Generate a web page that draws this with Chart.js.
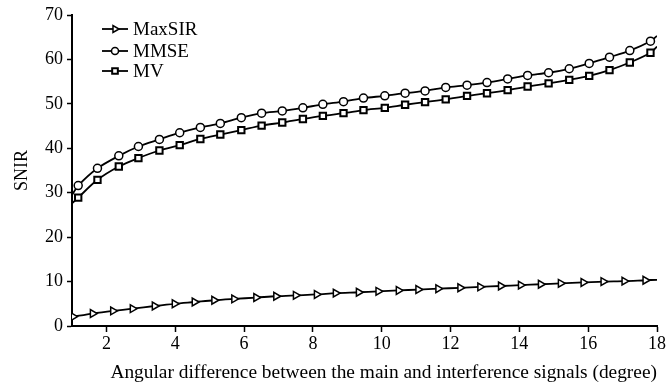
<!DOCTYPE html>
<html>
<head>
<meta charset="utf-8">
<script src="https://cdn.jsdelivr.net/npm/chart.js@4"></script>
<style>
  html, body { margin: 0; padding: 0; background: #fff; }
  canvas { display: block; }
</style>
</head>
<body>
<canvas id="snirChart" width="667" height="390"></canvas>
<script>
// angles (degree) where markers are drawn
const maxsirX = [1.03, 1.6, 2.19, 2.76, 3.4, 3.98, 4.56, 5.13, 5.71, 6.35, 6.93, 7.5, 8.11, 8.66, 9.33,
                 9.9, 10.49, 11.06, 11.64, 12.28, 12.86, 13.46, 14.04, 14.62, 15.2, 15.86, 16.44, 17.05, 17.66];
const beamX = [1.18, 1.74, 2.36, 2.93, 3.54, 4.13, 4.73, 5.31, 5.92, 6.51, 7.11, 7.71, 8.29, 8.89, 9.47,
               10.09, 10.68, 11.26, 11.86, 12.48, 13.06, 13.66, 14.24, 14.85, 15.45, 16.03, 16.62, 17.21, 17.81];

// SNIR values
const maxsirY = [2.1, 2.8, 3.4, 3.9, 4.5, 5.0, 5.4, 5.8, 6.1, 6.4, 6.7, 6.9, 7.1, 7.4, 7.6,
                 7.8, 8.0, 8.2, 8.4, 8.6, 8.8, 9.0, 9.2, 9.4, 9.6, 9.8, 10.0, 10.1, 10.3];
const mmseY = [31.6, 35.5, 38.3, 40.4, 42.0, 43.5, 44.7, 45.6, 46.9, 47.9, 48.4, 49.1, 49.9, 50.5, 51.3,
               51.8, 52.4, 52.9, 53.7, 54.2, 54.8, 55.6, 56.4, 57.0, 57.9, 59.1, 60.5, 62.0, 64.1];
const mvY = [28.9, 32.9, 35.9, 37.8, 39.5, 40.7, 42.1, 43.1, 44.1, 45.1, 45.8, 46.6, 47.3, 47.9, 48.6,
             49.1, 49.8, 50.4, 51.0, 51.8, 52.4, 53.1, 53.9, 54.6, 55.4, 56.3, 57.6, 59.3, 61.5];

// curve values at the axis ends (no marker there)
const axisEnds = [1, 18];
const maxsirEnds = [null, 10.4];
const mmseEnds = [29.5, 65.3];
const mvEnds = [27.6, 62.9];

const xTicks = [2, 4, 6, 8, 10, 12, 14, 16, 18];
const yTicks = [0, 10, 20, 30, 40, 50, 60, 70];
const seriesNames = ['MaxSIR', 'MMSE', 'MV'];

function buildPoints(xs, ys, ends) {
    const pts = xs.map((x, i) => ({ x: x, y: ys[i] }));
    if (ends[0] !== null) pts.unshift({ x: axisEnds[0], y: ends[0], edge: true });
    if (ends[1] !== null) pts.push({ x: axisEnds[1], y: ends[1], edge: true });
    return pts;
}

const serif = '"Liberation Serif", "Times New Roman", serif';

const markerStyles = [
    { pointStyle: 'triangle', radius: 4.5, rotation: 90 },
    { pointStyle: 'circle', radius: 4, rotation: 0 },
    { pointStyle: 'rect', radius: 4.5, rotation: 0 }
];

function makeDataset(i, points) {
    const m = markerStyles[i];
    return {
        label: seriesNames[i],
        data: points,
        borderColor: '#000',
        borderWidth: 1.8,
        backgroundColor: '#fff',
        pointBackgroundColor: '#fff',
        pointBorderColor: '#000',
        pointBorderWidth: i === 2 ? 2 : 1.5,
        pointStyle: m.pointStyle,
        pointRotation: m.rotation,
        pointRadius: ctx => (ctx.raw && ctx.raw.edge) ? 0 : m.radius,
        tension: 0.3,
        fill: false
    };
}

// legend inside the plot, line sample with marker in the middle
const innerLegend = {
    id: 'innerLegend',
    afterDraw(chart) {
        const c = chart.ctx;
        const x0 = 102, x1 = 128, tx = 133;
        const ys = [29, 51, 71];
        c.save();
        seriesNames.forEach((name, i) => {
            const y = ys[i];
            c.strokeStyle = '#000';
            c.lineWidth = 1.8;
            c.beginPath();
            c.moveTo(x0, y);
            c.lineTo(x1, y);
            c.stroke();
            c.fillStyle = '#fff';
            c.lineWidth = i === 2 ? 2 : 1.5;
            const m = markerStyles[i];
            Chart.helpers.drawPoint(c, { pointStyle: m.pointStyle, radius: m.radius - 0.5, rotation: m.rotation, borderWidth: c.lineWidth }, (x0 + x1) / 2, y);
            c.fillStyle = '#000';
            c.font = '19px ' + serif;
            c.textAlign = 'left';
            c.textBaseline = 'middle';
            c.fillText(name, tx, y + 1);
        });
        c.restore();
    }
};

const ctx = document.getElementById('snirChart');
new Chart(ctx, {
    type: 'line',
    data: {
        datasets: [
            makeDataset(0, buildPoints(maxsirX, maxsirY, maxsirEnds)),
            makeDataset(1, buildPoints(beamX, mmseY, mmseEnds)),
            makeDataset(2, buildPoints(beamX, mvY, mvEnds))
        ]
    },
    options: {
        responsive: false,
        animation: false,
        devicePixelRatio: 1,
        layout: { padding: { top: 15, right: 7, left: 0, bottom: 0 } },
        plugins: {
            legend: { display: false },
            tooltip: { enabled: false }
        },
        scales: {
            x: {
                type: 'linear',
                min: 1,
                max: 18,
                afterBuildTicks: axis => { axis.ticks = xTicks.map(v => ({ value: v })); },
                afterFit: axis => { axis.height = 64; },
                border: { color: '#000', width: 2 },
                grid: { drawOnChartArea: false, color: '#000', tickLength: 6, tickWidth: 1.5 },
                ticks: { color: '#000', font: { family: serif, size: 18 }, padding: 1, maxRotation: 0 },
                title: {
                    display: true,
                    align: 'end',
                    text: 'Angular difference between the main and interference signals (degree)',
                    color: '#000',
                    font: { family: serif, size: 19.4 },
                    padding: { top: 4, bottom: 5 }
                }
            },
            y: {
                min: 0,
                max: 70,
                afterBuildTicks: axis => { axis.ticks = yTicks.map(v => ({ value: v })); },
                afterFit: axis => { axis.width = 72; },
                border: { color: '#000', width: 2 },
                grid: { drawOnChartArea: false, color: '#000', tickLength: 5, tickWidth: 1.5 },
                ticks: { color: '#000', font: { family: serif, size: 18 }, padding: 4 },
                title: {
                    display: true,
                    text: 'SNIR',
                    color: '#000',
                    font: { family: serif, size: 18 },
                    padding: { top: 11, bottom: 0 }
                }
            }
        }
    },
    plugins: [innerLegend]
});
</script>
</body>
</html>
